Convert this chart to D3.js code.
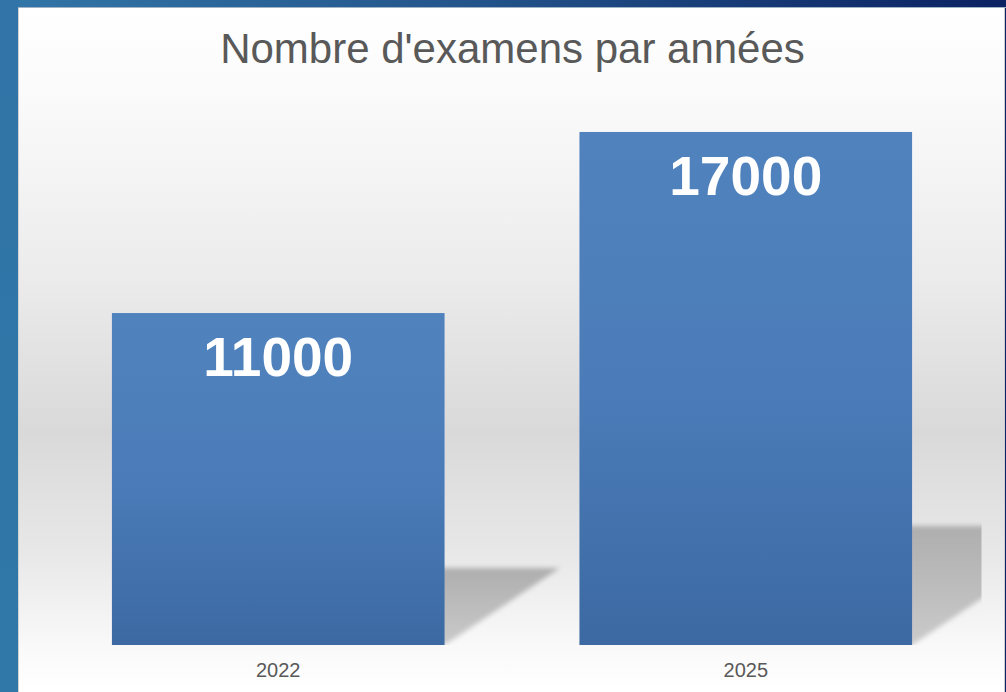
<!DOCTYPE html>
<html>
<head>
<meta charset="utf-8">
<script src="https://cdn.jsdelivr.net/npm/d3@7"></script>
<style>
body { margin: 0; padding: 0; overflow: hidden; }
svg { display: block; }
</style>
</head>
<body>
<div id="chart"></div>
<script>
var years = ["2022", "2025"];
var exams = [11000, 17000];
var title = "Nombre d'examens par années";

var width = 1006, height = 692;
var svg = d3.select("#chart").append("svg")
    .attr("width", width).attr("height", height);

var defs = svg.append("defs");

// slide background
var slideGrad = defs.append("linearGradient").attr("id", "slide")
    .attr("x1", 0).attr("y1", 0).attr("x2", 1).attr("y2", 0);
slideGrad.append("stop").attr("offset", "0%").attr("stop-color", "#3276a8");
slideGrad.append("stop").attr("offset", "45%").attr("stop-color", "#24568c");
slideGrad.append("stop").attr("offset", "100%").attr("stop-color", "#0c2262");

var leftGrad = defs.append("linearGradient").attr("id", "leftband")
    .attr("x1", 0).attr("y1", 0).attr("x2", 0).attr("y2", 1);
leftGrad.append("stop").attr("offset", "0%").attr("stop-color", "#3274a7");
leftGrad.append("stop").attr("offset", "100%").attr("stop-color", "#2f78a8");

var areaGrad = defs.append("linearGradient").attr("id", "area")
    .attr("x1", 0).attr("y1", 0).attr("x2", 0).attr("y2", 1);
[["0%", "#ffffff"], ["14%", "#fafafa"], ["40%", "#ebebeb"], ["62%", "#d9d9d9"],
 ["80%", "#e8e8e8"], ["94%", "#fafafa"], ["100%", "#ffffff"]].forEach(function(s) {
    areaGrad.append("stop").attr("offset", s[0]).attr("stop-color", s[1]);
});

var barGrad = defs.append("linearGradient").attr("id", "bar")
    .attr("x1", 0).attr("y1", 0).attr("x2", 0).attr("y2", 1);
barGrad.append("stop").attr("offset", "0%").attr("stop-color", "#5083be");
barGrad.append("stop").attr("offset", "50%").attr("stop-color", "#4b7cb9");
barGrad.append("stop").attr("offset", "100%").attr("stop-color", "#3c69a2");

var shadowGrad = defs.append("linearGradient").attr("id", "shadow")
    .attr("x1", 0).attr("y1", 0).attr("x2", 0).attr("y2", 1);
shadowGrad.append("stop").attr("offset", "0%").attr("stop-color", "#aeaeae");
shadowGrad.append("stop").attr("offset", "100%").attr("stop-color", "#cacaca");

defs.append("filter").attr("id", "blur")
    .attr("x", "-10%").attr("y", "-10%").attr("width", "120%").attr("height", "120%")
    .append("feGaussianBlur").attr("stdDeviation", 2.5);

svg.append("rect").attr("width", width).attr("height", height).attr("fill", "url(#slide)");
svg.append("rect").attr("width", 18).attr("height", height).attr("fill", "url(#leftband)");

// chart area
var area = { x: 18, y: 7, w: 987, h: 685 };
svg.append("rect")
    .attr("x", area.x).attr("y", area.y).attr("width", area.w).attr("height", area.h)
    .attr("fill", "url(#area)");
svg.append("line").attr("x1", area.x + 0.5).attr("x2", area.x + 0.5)
    .attr("y1", area.y).attr("y2", height).attr("stroke", "#d2d2d2");
svg.append("line").attr("x1", 1004.5).attr("x2", 1004.5)
    .attr("y1", area.y).attr("y2", height).attr("stroke", "#cfcfcf");
svg.append("line").attr("x1", area.x).attr("x2", width)
    .attr("y1", area.y + 0.5).attr("y2", area.y + 0.5).attr("stroke", "#9fb3c8");

// plot
var plot = { left: 44.5, right: 979.5, top: 101.8, bottom: 645 };

var x = d3.scaleBand().domain(years)
    .range([plot.left, plot.right])
    .paddingInner(0.2885).paddingOuter(0.1442);
var y = d3.scaleLinear().domain([0, 18000]).range([plot.bottom, plot.top]);

defs.append("clipPath").attr("id", "plotclip")
    .append("rect").attr("x", plot.left).attr("y", 0)
    .attr("width", plot.right - plot.left + 2).attr("height", plot.bottom);

// perspective shadows behind the bars
svg.append("g").attr("clip-path", "url(#plotclip)")
    .selectAll("polygon")
    .data(exams)
    .enter().append("polygon")
    .attr("points", function(d, i) {
        var x0 = x(years[i]), x1 = x0 + x.bandwidth();
        var h = y(0) - y(d);
        var dx = h * 0.347, dy = h * 0.232;
        return [[x0, y(0)], [x1, y(0)], [x1 + dx, y(0) - dy], [x0 + dx, y(0) - dy]]
            .map(function(p) { return p.join(","); }).join(" ");
    })
    .attr("fill", "url(#shadow)")
    .attr("filter", "url(#blur)");

svg.append("g").selectAll("rect")
    .data(exams)
    .enter().append("rect")
    .attr("x", function(d, i) { return x(years[i]); })
    .attr("y", function(d) { return y(d); })
    .attr("width", x.bandwidth())
    .attr("height", function(d) { return y(0) - y(d); })
    .attr("fill", "url(#bar)");

svg.append("g").selectAll("text")
    .data(exams)
    .enter().append("text")
    .attr("x", function(d, i) { return x(years[i]) + x.bandwidth() / 2; })
    .attr("y", function(d) { return y(d) + 63; })
    .attr("text-anchor", "middle")
    .attr("font-family", "Liberation Sans, Arial, sans-serif")
    .attr("font-weight", "bold")
    .attr("font-size", 55)
    .attr("fill", "#ffffff")
    .text(function(d) { return d; });

// x axis labels, no line
var xAxis = d3.axisBottom(x).tickSize(0).tickPadding(0);
var gx = svg.append("g").attr("transform", "translate(0," + plot.bottom + ")").call(xAxis);
gx.select(".domain").remove();
gx.selectAll("text")
    .attr("dy", 0).attr("y", 32)
    .attr("font-family", "Liberation Sans, Arial, sans-serif")
    .attr("font-size", 20)
    .attr("fill", "#595959");

svg.append("text")
    .attr("x", 512.5).attr("y", 63)
    .attr("text-anchor", "middle")
    .attr("font-family", "Liberation Sans, Arial, sans-serif")
    .attr("font-size", 42)
    .attr("fill", "#595959")
    .text(title);
</script>
</body>
</html>
